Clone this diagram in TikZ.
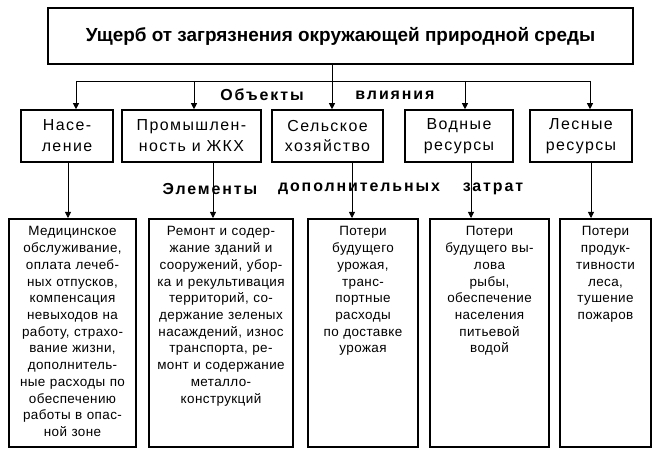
\documentclass[tikz,border=0pt]{standalone}
\usepackage{fontspec}
\setmainfont{Liberation Sans}
\newfontfamily\objfont[LetterSpace=9]{Liberation Sans}
\newfontfamily\capfont[LetterSpace=12]{Liberation Sans}
\newfontfamily\elfont[LetterSpace=3]{Liberation Sans}
\usetikzlibrary{positioning}
\usetikzlibrary{calc}
\usetikzlibrary{arrows.meta}

\begin{document}
\begin{tikzpicture}[x=1bp, y=-1bp,
        box/.style={draw, line width=1.6bp},
        objbox/.style={box, inner sep=0pt, minimum height=52bp, align=center, font=\objfont\fontsize{16}{21}\selectfont},
        elbox/.style={box, anchor=north, inner xsep=0pt, inner ysep=0pt, align=center, text height=17bp, text depth=211bp, font=\elfont\fontsize{13.5}{16.8}\selectfont},
        caption/.style={font=\capfont\bfseries\fontsize{16}{18}\selectfont},
        arr/.style={-{Triangle[length=6bp, width=6bp]}, line width=0.8bp}]
    \useasboundingbox (0,0) rectangle (658,456);

    \node[box, minimum width=585bp, minimum height=56bp, font=\bfseries\fontsize{19}{20}\selectfont] (damage) at (340.5,36) {Ущерб от загрязнения окружающей природной среды};

    % objects
    \node[objbox, minimum width=92bp] (obj_1) at (67,136) {Насе-\\ление};
    \node[objbox, minimum width=139bp] (obj_2) at (191.5,136) {Промышлен-\\ность и ЖКХ};
    \node[objbox, minimum width=111bp] (obj_3) at (327.5,136) {Сельское\\хозяйство};
    \node[objbox, minimum width=108bp] (obj_4) at (459,136) {Водные\\ресурсы};
    \node[objbox, minimum width=102bp] (obj_5) at (581,136) {Лесные\\ресурсы};

    \node[caption] (cap_obj) at (262,95) {Объекты};
    \node[caption] (cap_infl) at (395,95) {влияния};
    \node[caption] (cap_el) at (210,189) {Элементы};
    \node[caption] (cap_add) at (359,189) {дополнительных};
    \node[caption] (cap_cost) at (493,189) {затрат};

    % elements
    \node[elbox, text width=127bp] (el_1) at (72.5,218) {Медицинское\\обслуживание,\\оплата лечеб-\\ных отпусков,\\компенсация\\невыходов на\\работу, страхо-\\вание жизни,\\дополнитель-\\ные расходы по\\обеспечению\\работы в опас-\\ной зоне};
    \node[elbox, text width=144bp] (el_2) at (221,218) {Ремонт и содер-\\жание зданий и\\сооружений, убор-\\ка и рекультивация\\территорий, со-\\держание зеленых\\насаждений, износ\\транспорта, ре-\\монт и содержание\\металло-\\конструкций};
    \node[elbox, text width=110bp] (el_3) at (363,218) {Потери\\будущего\\урожая,\\транс-\\портные\\расходы\\по доставке\\урожая};
    \node[elbox, text width=119bp] (el_4) at (489.5,218) {Потери\\будущего вы-\\лова\\рыбы,\\обеспечение\\населения\\питьевой\\водой};
    \node[elbox, text width=91bp] (el_5) at (605.5,218) {Потери\\продук-\\тивности\\леса,\\тушение\\пожаров};

    % connectors
    \coordinate (bus_1) at (76,81);
    \coordinate (bus_2) at (194,81);
    \coordinate (bus_3) at (332,81);
    \coordinate (bus_4) at (465,81);
    \coordinate (bus_5) at (590,81);
    \draw[line width=0.8bp] (bus_1) -- (bus_5);
    \draw[arr] (bus_3 |- damage.south) -- (bus_3 |- obj_3.north);
    \foreach \i in {1,2,4,5}
        \draw[arr] (bus_\i) -- (bus_\i |- obj_\i.north);

    \coordinate (down_1) at (68,0);
    \coordinate (down_2) at (213,0);
    \coordinate (down_3) at (352,0);
    \coordinate (down_4) at (471,0);
    \coordinate (down_5) at (591,0);
    \foreach \i in {1,...,5}
        \draw[arr] (down_\i |- obj_\i.south) -- (down_\i |- el_\i.north);
\end{tikzpicture}
\end{document}
